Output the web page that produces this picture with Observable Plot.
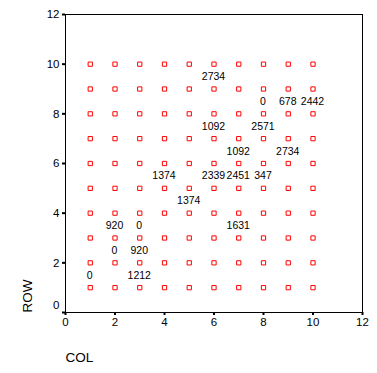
<!DOCTYPE html>
<html><head><meta charset="utf-8">
<script src="https://cdn.jsdelivr.net/npm/d3@7"></script>
<script src="https://cdn.jsdelivr.net/npm/@observablehq/plot@0.6"></script>
<style>body{margin:0;background:#fff} svg{display:block}</style>
</head><body><div id="chart"></div>
<script>
const cols = [1,2,3,4,5,6,7,8,9,10];
const rows = [1,2,3,4,5,6,7,8,9,10];
const xTicks = [0,2,4,6,8,10,12];
const yTicks = [0,2,4,6,8,10,12];
const labelCol  = [6, 8, 9, 10, 6, 8, 7, 9, 4, 6, 7, 8, 5, 2, 3, 7, 2, 3, 1, 3];
const labelRow  = [10, 9, 9, 9, 8, 8, 7, 7, 6, 6, 6, 6, 5, 4, 4, 4, 3, 3, 2, 2];
const labelText = ["2734","0","678","2442","1092","2571","1092","2734","1374","2339","2451","347","1374","920","0","1631","0","920","0","1212"];
const xTitle = "COL";
const yTitle = "ROW";

const grid = d3.cross(cols, rows).map(([c, r]) => ({col: c, row: r}));
const labels = labelText.map((t, i) => ({col: labelCol[i], row: labelRow[i], text: t}));
const font = "'Liberation Sans', Arial, sans-serif";

const chart = Plot.plot({
  width: 377,
  height: 373,
  marginLeft: 65,
  marginRight: 15,
  marginTop: 14,
  marginBottom: 61,
  style: {fontFamily: font, background: "#fff", color: "#000"},
  x: {domain: [0, 12]},
  y: {domain: [0, 12]},
  marks: [
    Plot.frame({stroke: "#000", strokeWidth: 1}),
    Plot.axisX(xTicks, {tickSize: 3, strokeWidth: 2, tickPadding: 2, fontSize: 11.5, label: null, stroke: "#000", fill: "#000"}),
    Plot.axisY(yTicks.filter(d => d !== 0), {tickSize: 3, strokeWidth: 2, tickPadding: 3, fontSize: 11.5, label: null, stroke: "#000", fill: "#000"}),
    Plot.axisY([0], {tickSize: 3, strokeWidth: 2, text: null, label: null, stroke: "#000"}),
    Plot.axisY([0], {tickSize: 0, tickPadding: 6, dy: -7, fontSize: 11.5, label: null, fill: "#000"}),
    Plot.dot(grid, {x: "col", y: "row", symbol: "square", r: 2.4, stroke: "#ff0000", strokeWidth: 1, fill: "none"}),
    Plot.text(labels, {x: "col", y: "row", text: "text", dy: 12.5, dx: -0.5, fontSize: 10.5, fill: "#000", textAnchor: "middle", lineAnchor: "middle"}),
    Plot.text([yTitle], {text: d => d, frameAnchor: "bottom-left", dx: -38, rotate: -90, textAnchor: "start", lineAnchor: "middle", fontSize: 13.5, fill: "#000"}),
    Plot.text([xTitle], {text: d => d, frameAnchor: "bottom-left", dy: 45, textAnchor: "start", lineAnchor: "middle", fontSize: 13.5, fill: "#000"})
  ]
});
document.getElementById("chart").append(chart);
</script>
</body></html>
